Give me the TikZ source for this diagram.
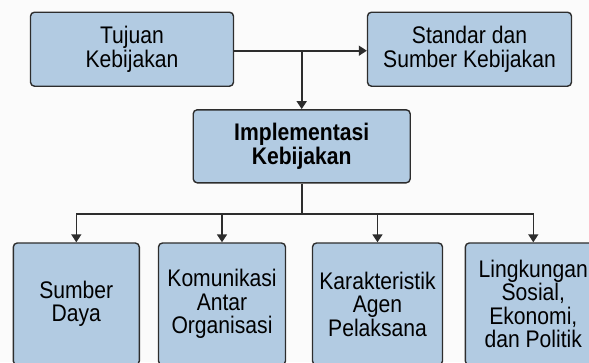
\documentclass[tikz,border=0pt]{standalone}
\usepackage{fontspec}
\setmainfont{Liberation Sans}[FakeStretch=0.88]
\usetikzlibrary{arrows.meta, calc}
\definecolor{boxfill}{RGB}{178,203,226}
\definecolor{boxline}{RGB}{45,45,45}
\definecolor{bgcol}{RGB}{251,251,251}

\begin{document}
\begin{tikzpicture}[
	x=1pt, y=-1pt,
	% Styles
	box/.style = {draw=boxline, fill=boxfill, rectangle, rounded corners=4pt, line width=1.4pt, align=center, inner sep=0pt,
		font=\fontsize{24}{23.5}\selectfont},
	topbox/.style = {box, minimum width=203pt, minimum height=74pt},
	factor/.style = {box, minimum height=122pt},
	line/.style = {draw=boxline, line width=1.6pt},
	arrow/.style = {line, -{Triangle[length=8pt, width=10pt]}}
	]
	
	% Canvas
	\clip (0,0) rectangle (589,362);
	\fill[bgcol] (0,0) rectangle (589,362);
	
	% Top row
	\node[topbox] (tujuan) at (132,49.2) {Tujuan\\Kebijakan};
	\node[topbox, minimum width=204pt] (standar) at (469.5,49.2) {Standar dan\\Sumber Kebijakan};
	
	% Middle
	\node[box, minimum width=217pt, minimum height=73pt, font=\fontsize{24}{23.5}\selectfont\bfseries] (impl) at (301.7,146.3) {Implementasi\\Kebijakan};
	
	% Bottom row: factors
	\node[factor, minimum width=126pt] (sumber) at (76.3,304) {Sumber\\Daya};
	\node[factor, minimum width=127pt] (komunikasi) at (222,304) {Komunikasi\\Antar\\Organisasi};
	\node[factor, minimum width=130pt] (karakter) at (377.5,304) {Karakteristik\\Agen\\Pelaksana};
	\node[factor, minimum width=136pt] (lingkungan) at (533.3,304) {Lingkungan\\Sosial,\\Ekonomi,\\dan Politik};
	
	% Helper points
	\coordinate (split) at (impl.north |- 0,50.7);
	\coordinate (bus) at (impl.south |- 0,214);
	
	% Paths
	\draw[arrow] (tujuan.east |- split) -- (standar.west |- split);
	\draw[arrow] (split) -- (impl.north);
	\draw[line] (impl.south) -- (bus);
	\foreach \n in {sumber, komunikasi, karakter, lingkungan}
		\draw[arrow] (bus) -| (\n.north);
	
\end{tikzpicture}
\end{document}
